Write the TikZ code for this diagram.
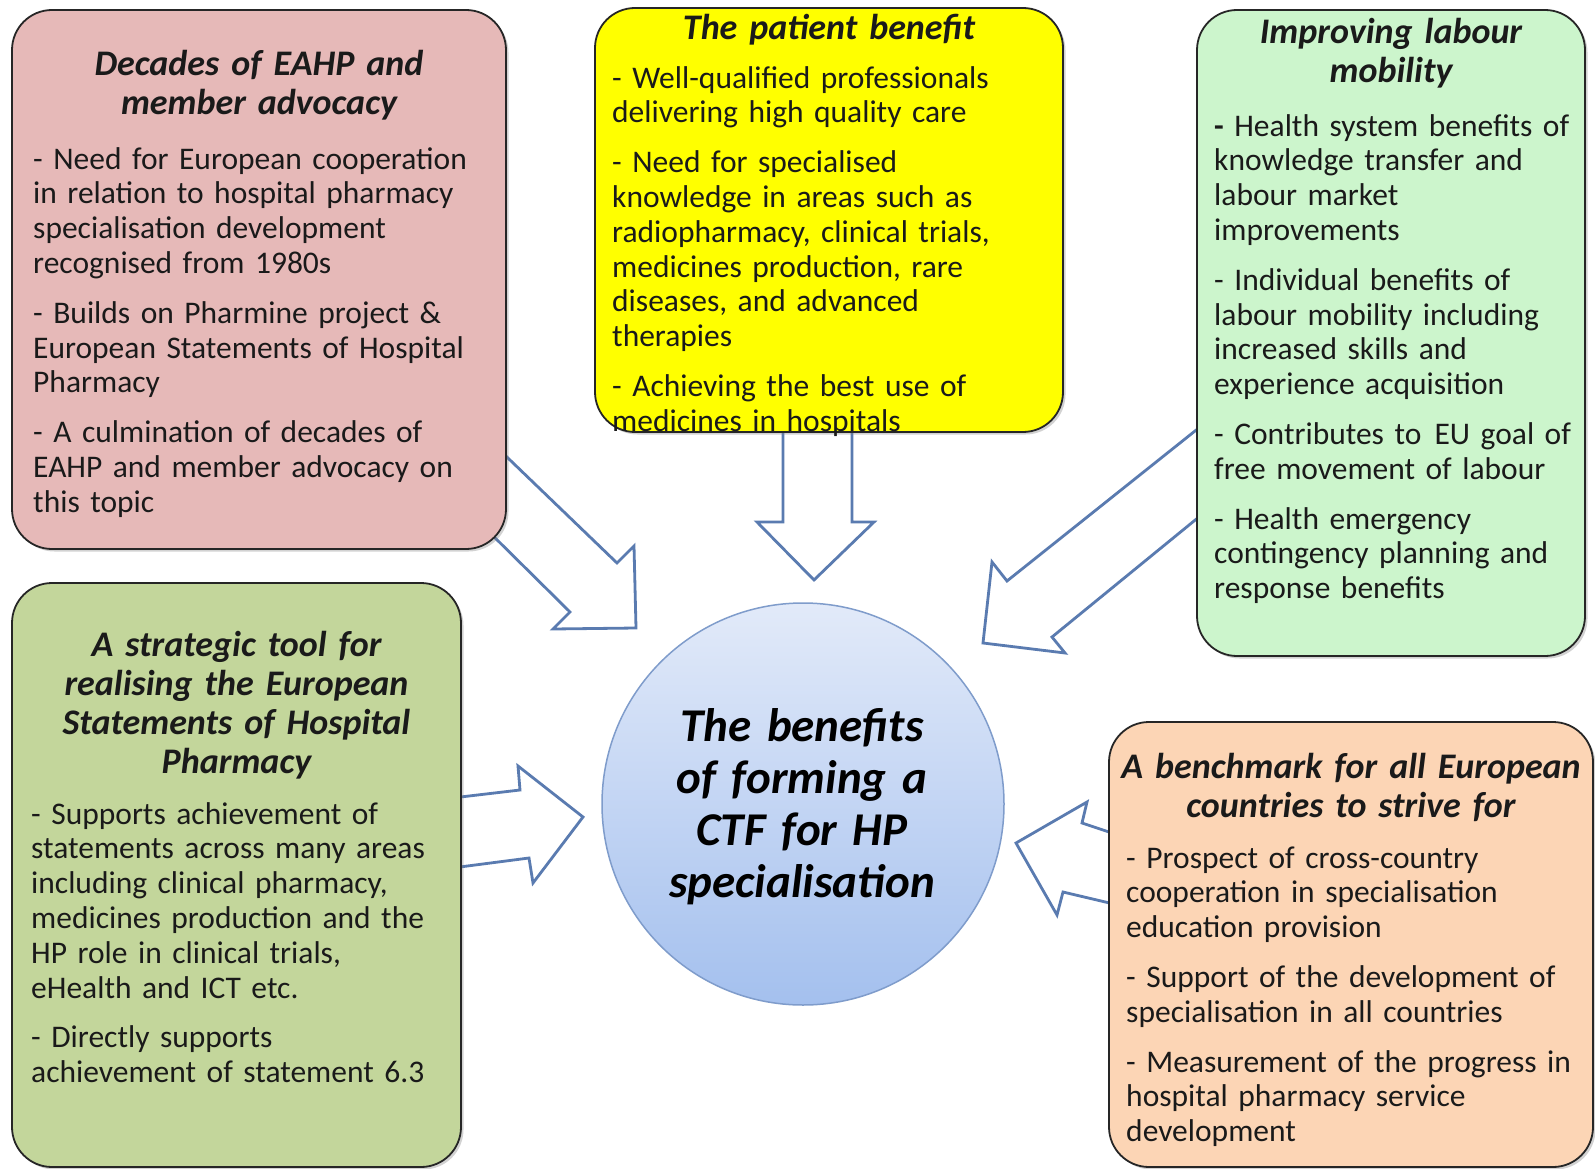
\documentclass[tikz,border=0pt]{standalone}
\usepackage{fontspec}
\setmainfont{Carlito}
\usetikzlibrary{shadows}
\definecolor{pinkbox}{HTML}{E6B9B8}
\definecolor{yellowbox}{HTML}{FFFF00}
\definecolor{greenbox}{HTML}{CCF5CC}
\definecolor{olivebox}{HTML}{C3D69B}
\definecolor{orangebox}{HTML}{FCD5B5}
\definecolor{arrowblue}{HTML}{5A7BB0}
\definecolor{circleline}{HTML}{7F9CCB}
\definecolor{circtop}{HTML}{E2EAF9}
\definecolor{circbot}{HTML}{A4C0EE}
\definecolor{inkdark}{HTML}{1A1A1A}
\begin{document}
\begin{tikzpicture}[x=1pt,y=-1pt,
  panel/.style={draw=black!85, line width=1.8pt, rounded corners=40pt, inner sep=0pt,
    drop shadow={shadow xshift=2.5pt, shadow yshift=-2.5pt, opacity=0.35}},
  ttl/.style={font=\fontsize{36}{39}\selectfont\bfseries\itshape, align=center, anchor=north,
    inner sep=0pt, text width=480pt, text=inkdark},
  bodytxt/.style={font=\fontsize{31.5}{34.8}\selectfont, align=left, anchor=north west,
    inner sep=0pt, text width=520pt, text=inkdark},
  blockarrow/.style={draw=arrowblue, line width=2.8pt, fill=white, line join=miter},
]
\useasboundingbox (0,0) rectangle (1595,1169);
\fill[white] (0,0) rectangle (1595,1169);

% block arrows (drawn first, panels cover their tails)
\draw[blockarrow] (484,435) -- (617,563) -- (634,546) -- (636,628) -- (553,629) -- (570,612) -- (478,521) -- cycle;
\draw[blockarrow] (783,425) -- (783,522) -- (757,522) -- (814,580) -- (874,522) -- (852,522) -- (852,425) -- cycle;
\draw[blockarrow] (1205,423) -- (1007,581) -- (992,562) -- (983,643) -- (1065,653) -- (1052,637) -- (1205,512) -- cycle;
\draw[blockarrow] (452,798) -- (520,790) -- (518,766) -- (583,817) -- (533,883) -- (529,858) -- (452,868) -- cycle;
\draw[blockarrow] (1118,835) -- (1082,823) -- (1087,802) -- (1016,843) -- (1057,915) -- (1063,892) -- (1118,905) -- cycle;

% panels
\node[panel, fill=pinkbox, minimum width=494pt, minimum height=539pt] (pink) at (259,279.5) {};
\node[panel, fill=yellowbox, minimum width=468pt, minimum height=424pt] (yellow) at (829,220) {};
\node[panel, fill=greenbox, minimum width=388pt, minimum height=646pt] (green) at (1391,333) {};
\node[panel, fill=olivebox, minimum width=449pt, minimum height=584pt] (olive) at (236.5,875) {};
\node[panel, fill=orangebox, minimum width=484pt, minimum height=445pt] (orange) at (1351,944.5) {};

% titles
\node[ttl] (pinkT) at (259,47.7) {\strut Decades of EAHP and\\member advocacy};
\node[ttl] (yellowT) at (829,11.7) {\strut The patient benefit};
\node[ttl] (greenT) at (1391,15.7) {\strut Improving labour\\mobility};
\node[ttl] (oliveT) at (236.5,628.7) {\strut A strategic tool for\\realising the European\\Statements of Hospital\\Pharmacy};
\node[ttl] (orangeT) at (1351,750.7) {\strut A benchmark for all European\\countries to strive for};

% body texts
\node[bodytxt] (pinkB) at (33,144.6) {\strut - Need for European cooperation\\in relation to hospital pharmacy\\specialisation development\\recognised from 1980s\\[15pt]
- Builds on Pharmine project \&\\European Statements of Hospital\\Pharmacy\\[15pt]
- A culmination of decades of\\EAHP and member advocacy on\\this topic};
\node[bodytxt] (yellowB) at (612,63.6) {\strut - Well-qualified professionals\\delivering high quality care\\[15pt]
- Need for specialised\\knowledge in areas such as\\radiopharmacy, clinical trials,\\medicines production, rare\\diseases, and advanced\\therapies\\[15pt]
- Achieving the best use of\\medicines in hospitals};
\node[bodytxt] (greenB) at (1214,111.6) {\strut \textbf{-} Health system benefits of\\knowledge transfer and\\labour market\\improvements\\[15pt]
- Individual benefits of\\labour mobility including\\increased skills and\\experience acquisition\\[15pt]
- Contributes to\hspace{0.42em}EU goal of\\free movement of labour\\[15pt]
- Health emergency\\contingency planning and\\response benefits};
\node[bodytxt] (oliveB) at (31,799.6) {\strut - Supports achievement of\\statements across many areas\\including clinical pharmacy,\\medicines production and the\\HP role in clinical trials,\\eHealth and ICT etc.\\[15pt]
- Directly supports\\achievement of statement 6.3};
\node[bodytxt] (orangeB) at (1126,843.6) {\strut - Prospect of cross-country\\cooperation in specialisation\\education provision\\[15pt]
- Support of the development of\\specialisation in all countries\\[15pt]
- Measurement of the progress in\\hospital pharmacy service\\development};

% central circle
\node[circle, draw=circleline, line width=1.5pt, top color=circtop, bottom color=circbot,
  minimum size=402pt, inner sep=0pt] (hub) at (803,804) {};
\node[font=\fontsize{47}{52}\selectfont\bfseries\itshape, align=center, anchor=north, inner sep=0pt,
  text width=400pt, text=black] (hubT) at (802,704.6) {\strut The benefits\\of forming a\\CTF for HP\\specialisation};
\end{tikzpicture}
\end{document}
